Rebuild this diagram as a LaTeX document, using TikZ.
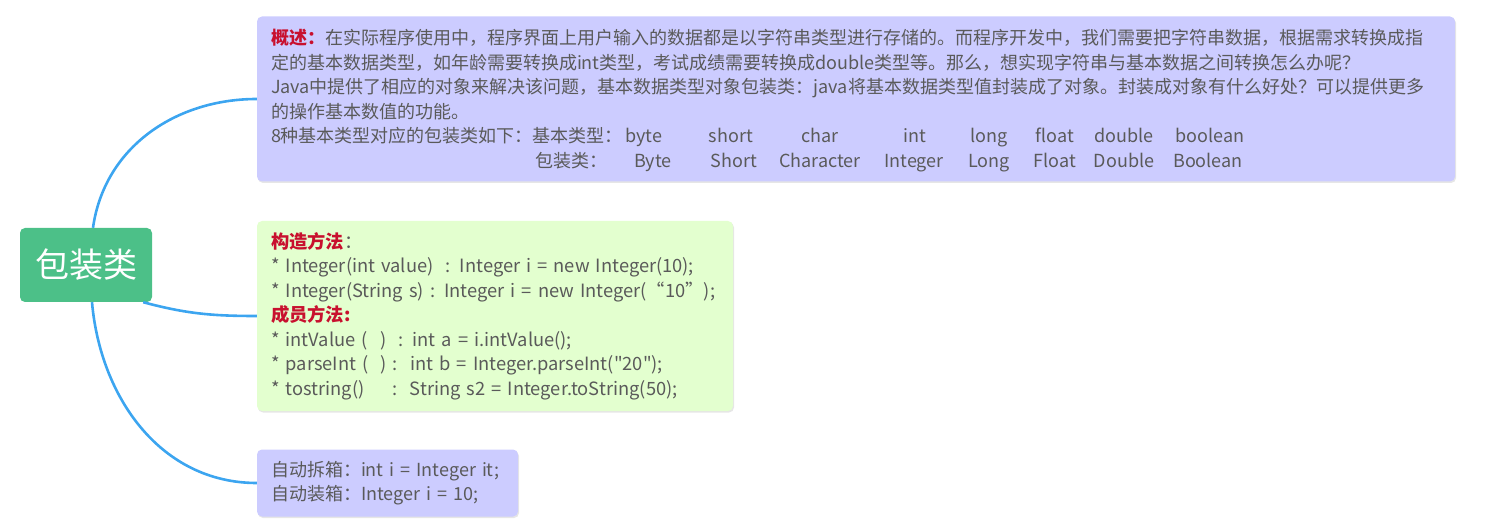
\documentclass[tikz,border=0pt]{standalone}
\usepackage{fontspec}
\setmainfont{Noto Sans CJK SC}[Ligatures=TeXOff]
\usetikzlibrary{positioning,shadows}
\definecolor{rootgreen}{RGB}{76,192,136}
\definecolor{boxblue}{RGB}{204,204,255}
\definecolor{boxgreen}{RGB}{227,255,207}
\definecolor{linkblue}{RGB}{60,165,240}
\definecolor{txtgray}{RGB}{90,90,90}
\definecolor{headred}{RGB}{200,16,46}
\newcommand{\hd}[1]{\textcolor{headred}{\textbf{#1}}}

\begin{document}
\begin{tikzpicture}[x=1pt,y=1pt,
    topic/.style={rounded corners=5pt, fill=#1, text=txtgray, align=left,
      font=\fontsize{18}{24.5}\selectfont, inner xsep=14pt, inner ysep=0pt,
      drop shadow={opacity=0.2, shadow xshift=1pt, shadow yshift=-1.5pt}},
    cell/.style={anchor=base, text=txtgray, inner sep=0pt,
      font=\fontsize{18}{24.5}\selectfont},
    branch/.style={draw=linkblue, line width=2.6pt}]
    \useasboundingbox (0,0) rectangle (1495,-526);

    % Root
    \node[fill=rootgreen, rounded corners=5pt, minimum width=132pt, minimum height=74pt,
      text=white, font=\fontsize{34}{34}\selectfont] (root) at (86,-265) {包装类};

    % Overview
    \node[topic=boxblue, minimum width=1198pt, minimum height=165pt, text width=1170pt]
      (summary) at (856,-99) {\hd{概述：}在实际程序使用中，程序界面上用户输入的数据都是以字符串类型进行存储的。而程序开发中，我们需要把字符串数据，根据需求转换成指\\
      定的基本数据类型，如年龄需要转换成int类型，考试成绩需要转换成double类型等。那么，想实现字符串与基本数据之间转换怎么办呢？\\
      Java中提供了相应的对象来解决该问题，基本数据类型对象包装类：java将基本数据类型值封装成了对象。封装成对象有什么好处？可以提供更多\\
      的操作基本数值的功能。\\
      8种基本类型对应的包装类如下：基本类型：\\
      \hspace*{264pt}包装类：};

    \node[cell] (p1) at (644,-143) {byte};
    \node[cell] (p2) at (731,-143) {short};
    \node[cell] (p3) at (820,-143) {char};
    \node[cell] (p4) at (915,-143) {int};
    \node[cell] (p5) at (989,-143) {long};
    \node[cell] (p6) at (1055,-143) {float};
    \node[cell] (p7) at (1124,-143) {double};
    \node[cell] (p8) at (1210,-143) {boolean};

    \node[cell] (w1) at (653,-167.5) {Byte};
    \node[cell] (w2) at (734,-167.5) {Short};
    \node[cell] (w3) at (820,-167.5) {Character};
    \node[cell] (w4) at (914,-167.5) {Integer};
    \node[cell] (w5) at (989,-167.5) {Long};
    \node[cell] (w6) at (1055,-167.5) {Float};
    \node[cell] (w7) at (1124,-167.5) {Double};
    \node[cell] (w8) at (1208,-167.5) {Boolean};

    % Methods
    \node[topic=boxgreen, minimum width=476pt, minimum height=190pt, text width=448pt,
      font=\fontsize{18.3}{24.5}\selectfont]
      (methods) at (495,-316) {\hd{构造方法}：\\
      {}* Integer(int value)\ \ : Integer i = new Integer(10);\\
      \mbox{* Integer(String s) : Integer i = new Integer(“10”);}\\
      \hd{成员方法:}\\
      {}* intValue (\ \ )\ \ : int a = i.intValue();\\
      {}* parseInt (\ \ )\ :\ \ int b = Integer.parseInt("20");\\
      {}* tostring()\hspace{28pt}:\ \ String s2 = Integer.toString(50);};

    % Boxing
    \node[topic=boxblue, minimum width=261pt, minimum height=67pt, text width=233pt]
      (boxing) at (387.5,-483) {自动拆箱：int i = Integer it;\\
      自动装箱：Integer i = 10;};

    \draw[branch] ([xshift=7pt]root.north) to[out=82, in=180] (summary.west);
    \draw[branch] ([xshift=-9pt]root.south east) to[out=-15, in=180] (methods.west);
    \draw[branch] ([xshift=6pt]root.south) to[out=-85, in=180] (boxing.west);
\end{tikzpicture}
\end{document}
